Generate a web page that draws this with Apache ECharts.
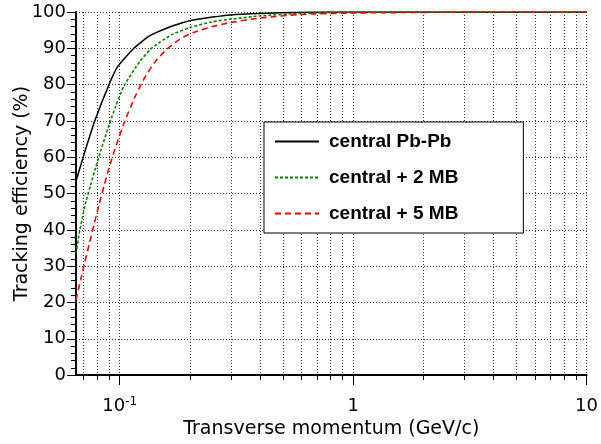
<!DOCTYPE html>
<html>
<head>
<meta charset="utf-8">
<script src="https://cdn.jsdelivr.net/npm/echarts@6/dist/echarts.min.js"></script>
<style>
  html, body { margin: 0; padding: 0; background: #fff; }
  #chart-container { width: 601px; height: 444px; }
</style>
</head>
<body>
<div id="chart-container"></div>
<script>
var seriesNames = ['central Pb-Pb', 'central + 2 MB', 'central + 5 MB'];

// transverse momentum (GeV/c) and efficiency (%)
var ptBlack = [0.065, 0.0693, 0.0716, 0.0782, 0.090, 0.0977, 0.115, 0.122, 0.133, 0.144, 0.169, 0.2, 0.25, 0.297, 0.397, 0.6, 1, 10];
var effBlack = [53.4, 59.4, 62.4, 70, 80, 84.8, 90, 91.4, 93.3, 94.4, 96.2, 97.6, 98.6, 99.2, 99.6, 99.9, 100, 100];

var ptGreen = [0.065, 0.0671, 0.0693, 0.0716, 0.0752, 0.079, 0.0824, 0.090, 0.0961, 0.1043, 0.122, 0.135, 0.148, 0.169, 0.2, 0.25, 0.297, 0.397, 0.584, 0.95, 1.5, 10];
var effGreen = [33.5, 39.0, 43.5, 47.7, 52.5, 57.2, 61.2, 68.8, 74.0, 79.6, 86.4, 89.6, 91.6, 93.9, 95.7, 97.3, 98.0, 98.9, 99.6, 99.9, 100, 100];

var ptRed = [0.065, 0.0686, 0.0709, 0.074, 0.0777, 0.0816, 0.0857, 0.090, 0.0946, 0.1043, 0.117, 0.129, 0.142, 0.159, 0.18, 0.206, 0.25, 0.297, 0.397, 0.584, 0.953, 2, 4, 10];
var effRed = [20.7, 27.2, 31.1, 36.0, 41.5, 46.9, 52.1, 57.0, 61.5, 69.3, 77.0, 82.3, 86.3, 89.7, 92.4, 94.3, 96.0, 97.1, 98.3, 99.3, 99.7, 99.9, 100, 100];

var majorTicks = [0.1, 1, 10];
var minorTicks = [0.07, 0.08, 0.09, 0.2, 0.3, 0.4, 0.5, 0.6, 0.7, 0.8, 0.9, 2, 3, 4, 5, 6, 7, 8, 9];

function pairs(xs, ys) {
  return xs.map(function (x, i) { return [x, ys[i]]; });
}

var chartDom = document.getElementById('chart-container');
var myChart = echarts.init(chartDom);
var font = 'DejaVu Sans';
var gridLine = { show: true, lineStyle: { color: '#333', type: [1, 2], width: 1 } };

function curve(name, color, type, width, data) {
  return {
    name: name,
    type: 'line',
    showSymbol: false,
    symbol: 'none',
    smooth: 0.2,
    lineStyle: { color: color, width: width, type: type },
    itemStyle: { color: color },
    data: data
  };
}

var option = {
  animation: false,
  backgroundColor: '#fff',
  grid: { left: 76, right: 12, top: 12, bottom: 66 },
  legend: {
    orient: 'vertical',
    left: 264,
    top: 122,
    padding: [10, 65, 10, 10],
    itemWidth: 44,
    itemHeight: 14,
    itemGap: 17,
    backgroundColor: '#fff',
    borderColor: '#000',
    borderWidth: 1,
    itemStyle: { opacity: 0 },
    textStyle: { fontFamily: 'Liberation Sans', fontWeight: 'bold', fontSize: 19, color: '#000', padding: [0, 0, 0, 5] },
    data: seriesNames
  },
  xAxis: [{
    type: 'log',
    min: 0.065,
    max: 10,
    name: 'Transverse momentum (GeV/c)',
    nameLocation: 'middle',
    nameGap: 37,
    nameTextStyle: { fontFamily: font, fontSize: 19, color: '#000' },
    axisLine: { lineStyle: { color: '#000', width: 2 } },
    axisTick: { customValues: majorTicks, length: 10, lineStyle: { color: '#000' } },
    axisLabel: {
      customValues: majorTicks,
      margin: 21,
      color: '#000',
      formatter: function (v) {
        var e = Math.round(Math.log10(v));
        if (e < 0) return '{a|10}{b|' + e + '}';
        return '{a|' + Math.pow(10, e) + '}';
      },
      rich: {
        a: { fontFamily: font, fontSize: 18, lineHeight: 20, color: '#000' },
        b: { fontFamily: font, fontSize: 12, lineHeight: 12, verticalAlign: 'top', color: '#000' }
      }
    },
    splitLine: gridLine
  }, {
    type: 'log',
    min: 0.065,
    max: 10,
    position: 'bottom',
    axisLine: { show: false },
    axisTick: { customValues: minorTicks, length: 5, lineStyle: { color: '#000' } },
    axisLabel: { show: false },
    splitLine: gridLine
  }],
  yAxis: {
    type: 'value',
    min: 0,
    max: 100,
    interval: 10,
    name: 'Tracking efficiency (%)',
    nameLocation: 'middle',
    nameGap: 44,
    nameMoveOverlap: false,
    nameTextStyle: { fontFamily: font, fontSize: 19, color: '#000' },
    axisLine: { show: true, lineStyle: { color: '#000', width: 2 } },
    axisTick: { show: true, length: 9, lineStyle: { color: '#000' } },
    minorTick: { show: true, splitNumber: 5, length: 5, lineStyle: { color: '#000' } },
    axisLabel: { fontFamily: font, fontSize: 18, color: '#000', margin: 10 },
    splitLine: gridLine
  },
  series: [
    curve(seriesNames[0], '#000', 'solid', 1.5, pairs(ptBlack, effBlack)),
    curve(seriesNames[1], '#008000', [3, 2], 1.6, pairs(ptGreen, effGreen)),
    curve(seriesNames[2], '#ff0000', [6, 4], 1.6, pairs(ptRed, effRed))
  ]
};

myChart.setOption(option);
</script>
</body>
</html>
